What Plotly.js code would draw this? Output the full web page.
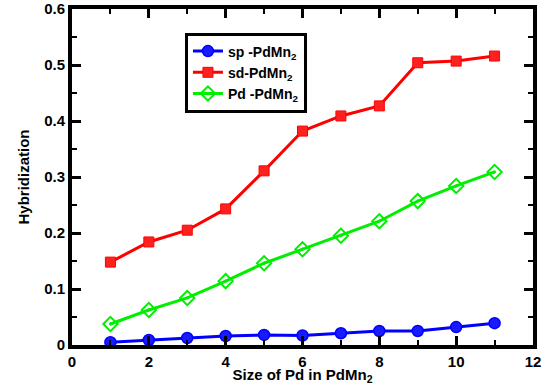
<!DOCTYPE html>
<html><head><meta charset="utf-8">
<script src="https://cdn.plot.ly/plotly-3.0.1.min.js"></script>
<style>html,body{margin:0;padding:0;background:#fff}</style>
</head><body><div id="chart" style="width:551px;height:385px"></div>
<script>
const sizes = [1,2,3,4,5,6,7,8,9,10,11];
const spVals = [0.005,0.009,0.0125,0.016,0.018,0.017,0.021,0.025,0.025,0.032,0.039];
const sdVals = [0.148,0.184,0.205,0.243,0.311,0.382,0.409,0.427,0.504,0.507,0.516];
const pdVals = [0.0375,0.0625,0.084,0.114,0.146,0.171,0.195,0.221,0.257,0.284,0.309];
const seriesNames = ['sp -PdMn<sub>2</sub>','sd-PdMn<sub>2</sub>','Pd -PdMn<sub>2</sub>'];
const xTitle = 'Size of Pd in PdMn<sub>2</sub>';
const yTitle = 'Hybridization';

const b = s => '<b>' + s + '</b>';
const traces = [
  {x:sizes,y:spVals,name:b(seriesNames[0]),mode:'lines+markers',
   line:{color:'#0000ff',width:3},marker:{symbol:'circle',size:11,color:'#1a1aff',line:{color:'#0000ff',width:1.5}}},
  {x:sizes,y:sdVals,name:b(seriesNames[1]),mode:'lines+markers',
   line:{color:'#ff0000',width:3},marker:{symbol:'square',size:10,color:'#ff2020',line:{color:'#ff0000',width:1}}},
  {x:sizes,y:pdVals,name:b(seriesNames[2]),mode:'lines+markers',
   line:{color:'#00ee00',width:3},marker:{symbol:'diamond-open-dot',size:11,color:'#00ee00',line:{color:'#00ee00',width:2}}}
];
const FAM = 'Liberation Sans, Arial, sans-serif';
const layout = {
  width:551,height:385,
  margin:{l:72,r:18,t:9,b:40},
  showlegend:true,
  legend:{x:0.245,y:0.93,xanchor:'left',yanchor:'top',bgcolor:'#fff',bordercolor:'#000',borderwidth:3,
    font:{family:FAM,size:14,color:'#000'}},
  xaxis:{range:[0,12],tick0:0,dtick:2,ticks:'inside',ticklen:9,tickwidth:3,tickcolor:'#000',
    tickprefix:'<b>',ticksuffix:'</b>',
    showline:true,linewidth:4,linecolor:'#000',mirror:'ticks',
    minor:{dtick:1,ticks:'inside',ticklen:5,tickwidth:2,tickcolor:'#000'},
    tickfont:{family:FAM,size:15,color:'#000'},
    title:{text:b(xTitle),font:{family:FAM,size:15,color:'#000'}}},
  yaxis:{range:[0,0.6],tick0:0,dtick:0.1,ticks:'inside',ticklen:9,tickwidth:3,tickcolor:'#000',
    tickprefix:'<b>',ticksuffix:'</b>',
    showline:true,linewidth:4,linecolor:'#000',mirror:'ticks',
    minor:{dtick:0.05,ticks:'inside',ticklen:5,tickwidth:2,tickcolor:'#000'},
    tickfont:{family:FAM,size:15,color:'#000'},
    title:{text:b(yTitle),font:{family:FAM,size:15,color:'#000'}}}
};
layout.xaxis.showgrid = false; layout.yaxis.showgrid = false;
layout.xaxis.zeroline = false; layout.yaxis.zeroline = false;
Plotly.newPlot('chart',traces,layout,{displayModeBar:false});
</script></body></html>
